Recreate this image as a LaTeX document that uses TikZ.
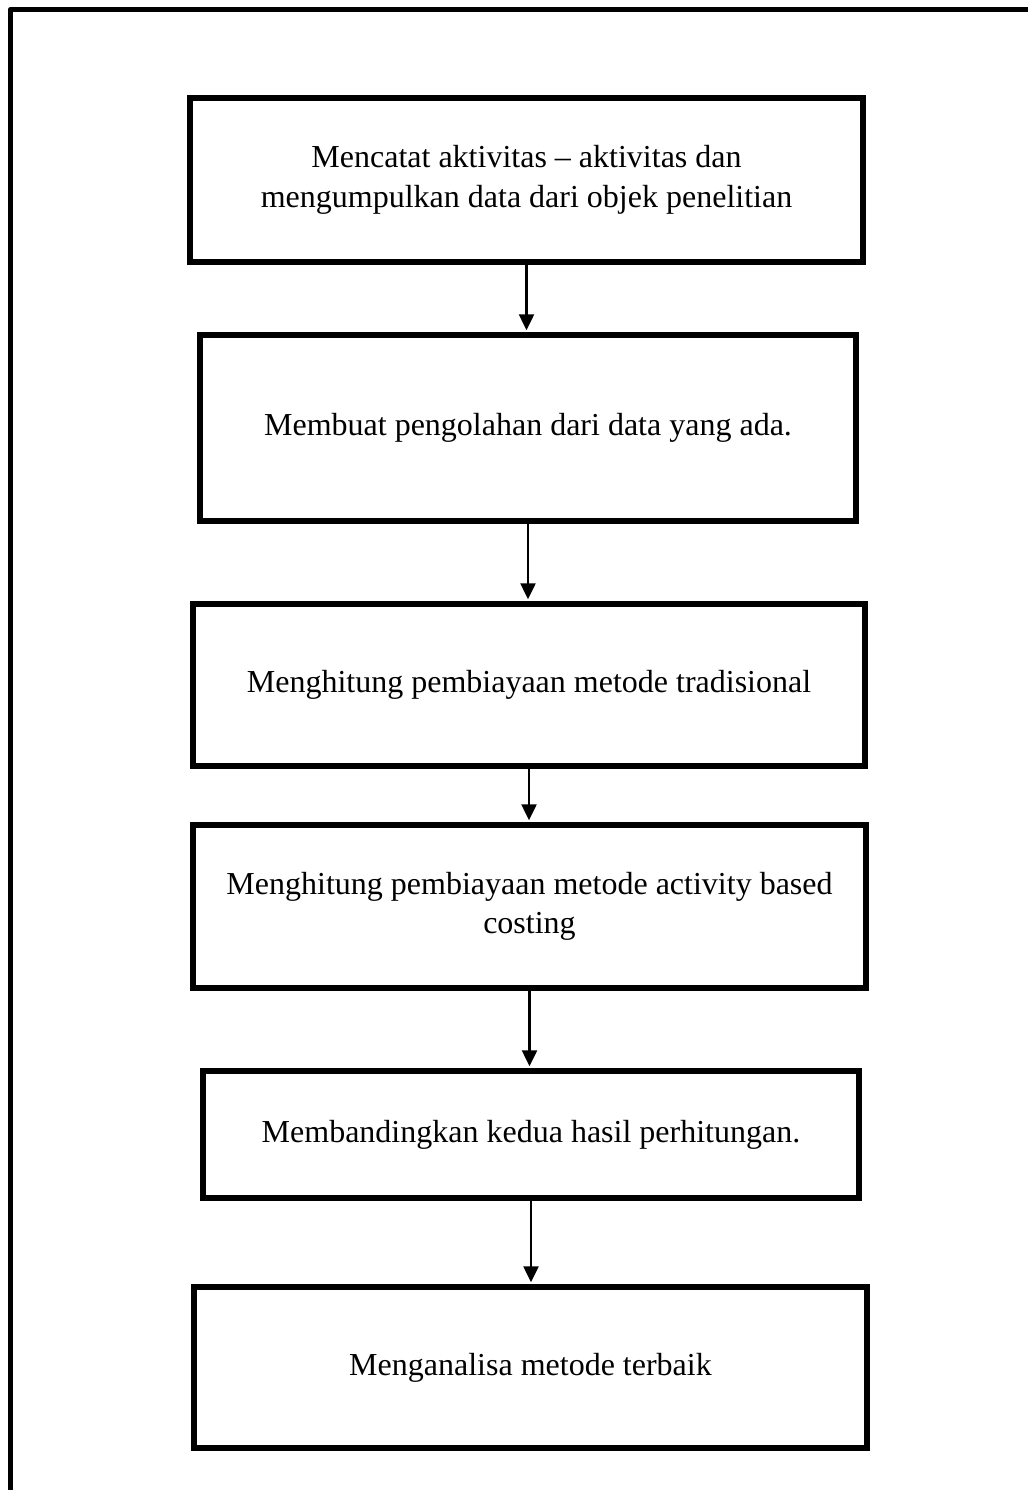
\documentclass[tikz,border=0pt]{standalone}
\usepackage{fontspec}
\setmainfont{Liberation Serif}
\usetikzlibrary{arrows.meta}
\begin{document}
\begin{tikzpicture}[x=1pt,y=-1pt,
  box/.style={draw,line width=5.5pt,align=center,font=\fontsize{32}{39.5}\selectfont,inner sep=0pt},
  arr/.style={line width=2.5pt,-{Triangle[width=15pt,length=16pt]},shorten >=2pt}]
\useasboundingbox (0,0) rectangle (1028,1490);
\coordinate (ftop) at (1028,9.5);
\coordinate (fcorner) at (10.5,9.5);
\coordinate (fbot) at (10.5,1490);
\draw[line width=5.5pt,line join=round] (ftop) -- (fcorner) -- (fbot);
\node[box,minimum width=673pt,minimum height=164pt] (b1) at (526.5,180) {Mencatat aktivitas -- aktivitas dan\\mengumpulkan data dari objek penelitian};
\node[box,minimum width=656pt,minimum height=186pt] (b2) at (528,428) {Membuat pengolahan dari data yang ada.};
\node[box,minimum width=672pt,minimum height=162pt] (b3) at (529,685) {Menghitung pembiayaan metode tradisional};
\node[box,minimum width=673pt,minimum height=163pt] (b4) at (529.5,906.5) {Menghitung pembiayaan metode activity based\\costing};
\node[box,minimum width=656pt,minimum height=127pt] (b5) at (531,1134.5) {Membandingkan kedua hasil perhitungan.};
\node[box,minimum width=673pt,minimum height=161pt] (b6) at (530.5,1367.5) {Menganalisa metode terbaik};
\draw[arr] (b1.south) -- (b1.south |- b2.north);
\draw[arr] (b2.south) -- (b2.south |- b3.north);
\draw[arr] (b3.south) -- (b3.south |- b4.north);
\draw[arr] (b4.south) -- (b4.south |- b5.north);
\draw[arr] (b5.south) -- (b5.south |- b6.north);
\end{tikzpicture}
\end{document}
